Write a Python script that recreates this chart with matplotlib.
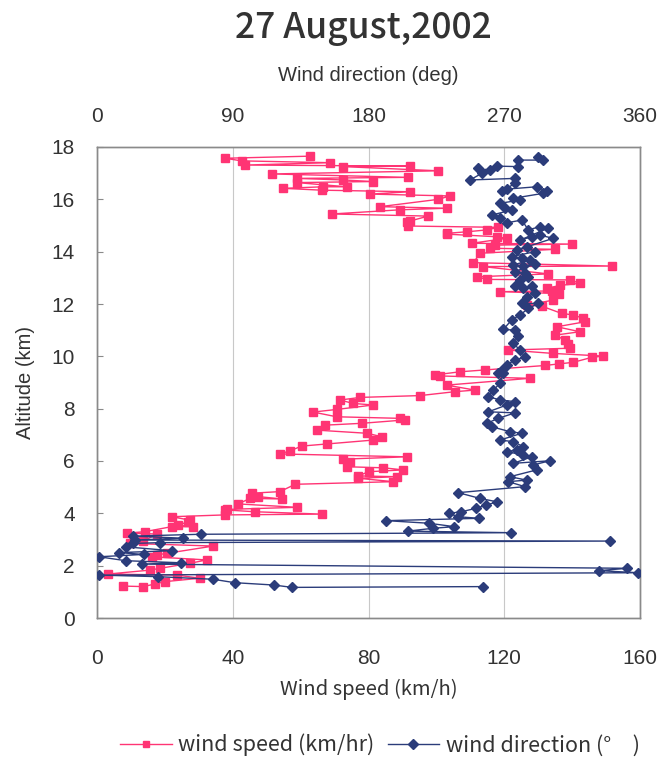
import matplotlib
matplotlib.use("Agg")
import matplotlib.pyplot as plt
from matplotlib.lines import Line2D

# ---- data ----
speed_kmh = [7.7, 13.6, 17.1, 20.0, 30.4, 23.5, 3.3, 15.6, 18.6, 27.4, 32.3, 16.1, 17.6, 20.5, 34.3, 9.7,
             13.6, 17.6, 8.7, 14.1, 22.0, 28.4, 24.0, 26.9, 27.4, 22.0, 37.7, 66.3, 46.6, 37.8, 38.2, 59.0,
             41.6, 45.1, 54.4, 47.5, 45.6, 53.9, 58.4, 87.3, 77.0, 88.3, 77.0, 80.0, 90.3, 84.4, 73.6, 74.6,
             72.6, 91.3, 53.9, 56.9, 60.3, 67.7, 81.4, 83.9, 79.5, 64.7, 67.2, 78.0, 90.8, 89.3, 70.6, 63.7,
             70.6, 81.4, 75.5, 71.6, 77.5, 95.2, 105.5, 111.4, 103.0, 127.6, 101.0, 99.6, 107.0, 114.3, 132.0,
             136.0, 140.3, 145.8, 149.2, 134.5, 121.2, 139.4, 138.9, 137.9, 135.0, 142.3, 135.5, 143.8, 143.3,
             140.4, 136.9, 131.0, 126.6, 134.5, 136.0, 118.8, 134.0, 132.5, 136.4, 142.3, 139.4, 114.8, 111.9,
             133.0, 113.8, 151.7, 110.9, 112.9, 135.0, 115.8, 117.3, 139.9, 110.4, 120.7, 117.8, 103.0, 103.0,
             109.0, 114.8, 118.3, 91.7, 91.3, 92.2, 97.6, 69.2, 89.3, 103.0, 83.4, 100.6, 104.0, 80.5, 92.2,
             66.2, 54.9, 66.7, 73.6, 58.8, 81.4, 72.6, 58.8, 91.7, 51.5, 100.6, 72.6, 92.2, 43.6, 68.7, 42.6,
             37.7, 62.8]
speed_alt_km = [1.22, 1.20, 1.30, 1.39, 1.52, 1.64, 1.68, 1.83, 1.90, 2.09, 2.22, 2.34, 2.41, 2.47, 2.75, 2.85,
                2.93, 3.21, 3.24, 3.30, 3.49, 3.49, 3.55, 3.68, 3.74, 3.87, 3.94, 3.97, 4.06, 4.13, 4.15, 4.23,
                4.36, 4.57, 4.55, 4.64, 4.77, 4.83, 5.11, 5.21, 5.34, 5.40, 5.43, 5.59, 5.66, 5.74, 5.78, 5.97,
                6.07, 6.16, 6.27, 6.39, 6.57, 6.65, 6.80, 6.93, 7.06, 7.18, 7.37, 7.44, 7.57, 7.63, 7.69, 7.87,
                7.97, 8.14, 8.20, 8.33, 8.43, 8.50, 8.65, 8.71, 8.90, 9.16, 9.25, 9.29, 9.41, 9.48, 9.65,
                9.71, 9.77, 9.96, 10.01, 10.11, 10.24, 10.31, 10.47, 10.62, 10.81, 10.94, 11.13, 11.32, 11.45,
                11.58, 11.64, 11.92, 11.96, 12.15, 12.40, 12.47, 12.50, 12.60, 12.71, 12.79, 12.92, 12.94, 13.04,
                13.15, 13.43, 13.45, 13.58, 13.94, 14.09, 14.13, 14.25, 14.29, 14.32, 14.51, 14.57, 14.67, 14.70,
                14.76, 14.83, 14.93, 14.98, 15.15, 15.17, 15.36, 15.44, 15.60, 15.66, 15.72, 16.00, 16.13, 16.20, 16.29,
                16.35, 16.42, 16.48, 16.48, 16.64, 16.68, 16.74, 16.80, 16.84, 16.97, 17.09, 17.25, 17.27, 17.31, 17.40, 17.47,
                17.57, 17.65]

direction_deg = [256.1, 129.3, 117.3, 91.2, 77.1, 40.4, 1.3, 358.8, 332.8, 351.7, 29.7, 55.8, 19.0, 1.3, 30.9,
                 14.3, 49.8, 19.0, 24.1, 41.5, 339.9, 24.9, 57.0, 23.8, 68.8, 274.8, 206.1, 223.0, 236.9, 220.3,
                 191.9, 253.5, 239.3, 233.3, 241.6, 251.1, 258.2, 265.3, 253.9, 239.5, 283.7, 272.7, 284.8, 273.8,
                 291.5, 289.3, 300.3, 276.0, 288.2, 282.6, 271.6, 278.2, 282.6, 276.0, 267.2, 281.6, 273.8, 261.7,
                 258.4, 266.1, 277.1, 259.5, 271.6, 277.1, 267.2, 259.5, 262.8, 267.2, 269.4, 266.1, 268.3, 271.6,
                 277.1, 283.7, 280.4, 276.0, 279.3, 277.1, 269.4, 274.9, 280.4, 286.0, 292.6, 281.6, 284.8, 290.4,
                 288.2, 282.6, 277.1, 286.0, 280.4, 283.7, 277.1, 290.4, 282.6, 276.0, 287.1, 281.6, 274.9, 290.4,
                 284.8, 278.2, 302.5, 293.7, 288.2, 280.4, 299.2, 293.7, 286.0, 281.6, 271.6, 267.2, 261.7, 274.9,
                 270.5, 267.2, 280.4, 276.0, 295.9, 298.1, 291.5, 271.6, 268.3, 277.1, 277.1, 247.3, 255.0, 252.8,
                 260.6, 265.0, 279.3, 279.3, 295.9, 292.6]
direction_alt_km = [1.20, 1.17, 1.26, 1.35, 1.48, 1.58, 1.64, 1.73, 1.81, 1.90, 2.06, 2.11, 2.19, 2.34, 2.43,
                    2.50, 2.57, 2.72, 2.85, 2.88, 2.94, 2.98, 3.05, 3.13, 3.20, 3.26, 3.32, 3.43, 3.49, 3.62,
                    3.72, 3.81, 3.87, 4.00, 4.06, 4.19, 4.32, 4.44, 4.57, 4.79, 5.02, 5.21, 5.27, 5.40,
                    5.66, 5.85, 6.01, 5.91, 6.16, 6.23, 6.36, 6.42, 6.55, 6.74, 6.80, 7.06, 7.12, 7.31,
                    7.44, 7.63, 7.84, 7.88, 8.14, 8.27, 8.33, 8.46, 8.71, 8.97, 9.35, 9.35, 9.48, 9.67,
                    9.86, 9.98, 10.24, 10.50, 10.76, 11.00, 11.03, 11.39, 11.58, 11.83, 12.02, 12.02, 12.28, 12.41,
                    12.67, 12.60, 12.67, 13.04, 12.92, 13.17, 13.24, 13.53, 13.45, 13.49, 13.68, 13.75, 13.81, 14.00,
                    14.19, 14.06, 14.51, 14.63, 14.57, 14.44, 14.90, 14.96, 14.83, 15.21, 15.10, 15.27, 15.40, 15.59,
                    15.66, 15.85, 15.97, 16.04, 16.23, 16.30, 16.48, 16.39, 16.30, 16.61, 16.80, 16.74, 16.99, 17.18,
                    17.12, 17.27, 17.25, 17.50, 17.50, 17.63]

speed_ticks = [0, 40, 80, 120, 160]
direction_ticks = [0, 90, 180, 270, 360]
altitude_ticks = [0, 2, 4, 6, 8, 10, 12, 14, 16, 18]

title_text = "27 August,2002"
speed_label = "Wind speed (km/h)"
direction_label = "Wind direction (deg)"
altitude_label = "Altitude (km)"
legend_speed = "wind speed (km/hr)"
legend_dir = "wind direction (°\u3000)"

# ---- style ----
PINK = "#FF3474"
NAVY = "#2B3C7A"
TXT = "#333333"
tickfont = ["Liberation Sans", "DejaVu Sans"]
jp = ["Noto Sans CJK JP", "DejaVu Sans"]

fig = plt.figure(figsize=(6.64, 7.6), dpi=100)
ax = fig.add_axes([97 / 664, 1 - 618 / 760, 543 / 664, 471 / 760])
ax2 = ax.twiny()

ax.plot(speed_kmh, speed_alt_km, color=PINK, marker="s", markersize=5.2, linewidth=1.0, zorder=3)
ax2.plot(direction_deg, direction_alt_km, color=NAVY, marker="D", markersize=5.2, linewidth=1.0, zorder=3)

ax.set_xlim(0, 160)
ax.set_ylim(0, 18)
ax2.set_xlim(0, 360)

ax.set_xticks(speed_ticks)
ax.set_yticks(altitude_ticks)
ax2.set_xticks(direction_ticks)
for a in (ax, ax2):
    for s in a.spines.values():
        s.set_color("#8a8a8a")
        s.set_linewidth(1.0)

ax.grid(axis="x", color="#c8c8c8", linewidth=0.8)
ax.set_axisbelow(True)

ax.tick_params(axis="x", direction="in", length=0, pad=22, labelsize=15, labelcolor=TXT)
ax.tick_params(axis="y", direction="in", length=4, pad=16, labelsize=15, labelcolor=TXT, color="#8a8a8a")
ax2.tick_params(axis="x", direction="in", length=0, pad=15, labelsize=15, labelcolor=TXT)
for lab in ax.get_xticklabels() + ax.get_yticklabels() + ax2.get_xticklabels():
    lab.set_family(tickfont)

ax.set_xlabel(speed_label, fontsize=14.5, color=TXT, family=jp, labelpad=8)
ax2.set_xlabel(direction_label, fontsize=14.5, color=TXT, family=tickfont, labelpad=19)
ax.set_ylabel(altitude_label, fontsize=14.5, color=TXT, family=tickfont, labelpad=12)

fig.text(363 / 664, 1 - 28 / 760, title_text, ha="center", va="center", fontsize=25.5,
         fontweight="medium", color=TXT, family=jp)

handles = [Line2D([], [], color=PINK, marker="s", markersize=5, linewidth=1.0),
           Line2D([], [], color=NAVY, marker="D", markersize=5, linewidth=1.0)]
fig.legend(handles, [legend_speed, legend_dir], loc="center", bbox_to_anchor=(380 / 664, 1 - 745 / 760),
           ncol=2, frameon=False, prop={"family": jp, "size": 15.5}, handlelength=2.4,
           columnspacing=0.6, handletextpad=0.3, labelcolor=TXT)

fig.savefig("out.png", dpi=100, facecolor="white")
